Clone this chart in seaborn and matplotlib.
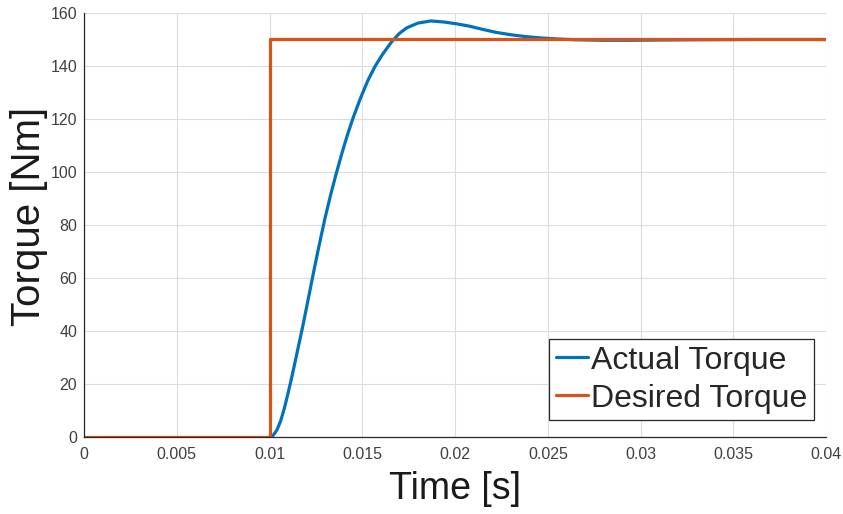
import matplotlib
matplotlib.use("Agg")
import matplotlib.pyplot as plt
import seaborn as sns
import pandas as pd

# Measured response of the torque controller
actual_time = [0.0100, 0.0102, 0.0104, 0.0106, 0.0108, 0.0110, 0.0112, 0.0114,
               0.0116, 0.0118, 0.0120, 0.0122, 0.0124, 0.0126, 0.0128, 0.0130,
               0.0133, 0.0136, 0.0139, 0.0142, 0.0145, 0.0149, 0.0153, 0.0157,
               0.0161, 0.0166, 0.0170, 0.0174, 0.0180, 0.0187, 0.0194, 0.0201,
               0.0208, 0.0215, 0.0222, 0.0230, 0.0238, 0.0246, 0.0255, 0.0265,
               0.0280, 0.0295, 0.0310, 0.0330, 0.0360, 0.0400]
actual_torque = [0.0, 0.6, 2.6, 6.0, 10.8, 16.5, 22.5, 29.0,
                 35.5, 42.0, 49.0, 56.0, 63.0, 69.8, 76.4, 82.8,
                 91.5, 99.5, 107.0, 114.0, 120.3, 127.8, 134.5, 140.0,
                 144.5, 149.3, 152.3, 154.4, 156.2, 157.0, 156.6, 155.9,
                 155.0, 153.8, 152.7, 151.8, 151.1, 150.6, 150.2, 149.9,
                 149.7, 149.7, 149.8, 149.9, 150.0, 150.0]

# Step reference
desired_time = [0.0, 0.01, 0.01, 0.04]
desired_torque = [0.0, 0.0, 150.0, 150.0]

x_ticks = [0, 0.005, 0.01, 0.015, 0.02, 0.025, 0.03, 0.035, 0.04]
x_tick_labels = ["0", "0.005", "0.01", "0.015", "0.02", "0.025", "0.03", "0.035", "0.04"]
y_ticks = [0, 20, 40, 60, 80, 100, 120, 140, 160]

actual_df = pd.DataFrame({"t": actual_time, "torque": actual_torque})
desired_df = pd.DataFrame({"t": desired_time, "torque": desired_torque})

sns.set_theme(style="white")
plt.rcParams["font.family"] = ["Liberation Sans", "DejaVu Sans"]

fig = plt.figure(figsize=(8.43, 5.14), dpi=100)
ax = fig.add_axes([0.0996, 0.150, 0.8804, 0.8247])

blue = "#0072BD"
orange = "#D95319"
sns.lineplot(data=actual_df, x="t", y="torque", ax=ax, color=blue, lw=2.3,
             estimator=None, sort=False, label="Actual Torque")
sns.lineplot(data=desired_df, x="t", y="torque", ax=ax, color=orange, lw=2.3,
             estimator=None, sort=False, label="Desired Torque")

ax.set_xlim(0, 0.04)
ax.set_ylim(0, 160)
ax.set_xticks(x_ticks)
ax.set_xticklabels(x_tick_labels)
ax.set_yticks(y_ticks)

ax.grid(True, color="#dcdcdc", lw=0.8)
ax.set_axisbelow(True)
for side in ("top", "right"):
    ax.spines[side].set_visible(False)
for side in ("left", "bottom"):
    ax.spines[side].set_color("#262626")
    ax.spines[side].set_linewidth(0.9)

ax.tick_params(axis="both", direction="in", length=5, width=0.9, color="#262626",
               labelsize=11.5, labelcolor="#404040")
ax.tick_params(axis="x", pad=7)
ax.tick_params(axis="y", pad=5)

ax.set_xlabel("Time [s]", fontsize=27, color="#1a1a1a", labelpad=7)
ax.set_ylabel("Torque [Nm]", fontsize=29, color="#1a1a1a")
ax.yaxis.set_label_coords(-0.049, 0.52)

leg = ax.legend(loc="lower right", bbox_to_anchor=(0.983, 0.04), fontsize=23,
                frameon=True, fancybox=False, edgecolor="#262626",
                handlelength=1.0, handletextpad=0.1, borderpad=0.2,
                labelspacing=0.25, borderaxespad=0.0)
leg.get_frame().set_linewidth(0.9)
leg.get_frame().set_facecolor("white")
leg.get_frame().set_alpha(1.0)

fig.savefig("out.png", dpi=100)
